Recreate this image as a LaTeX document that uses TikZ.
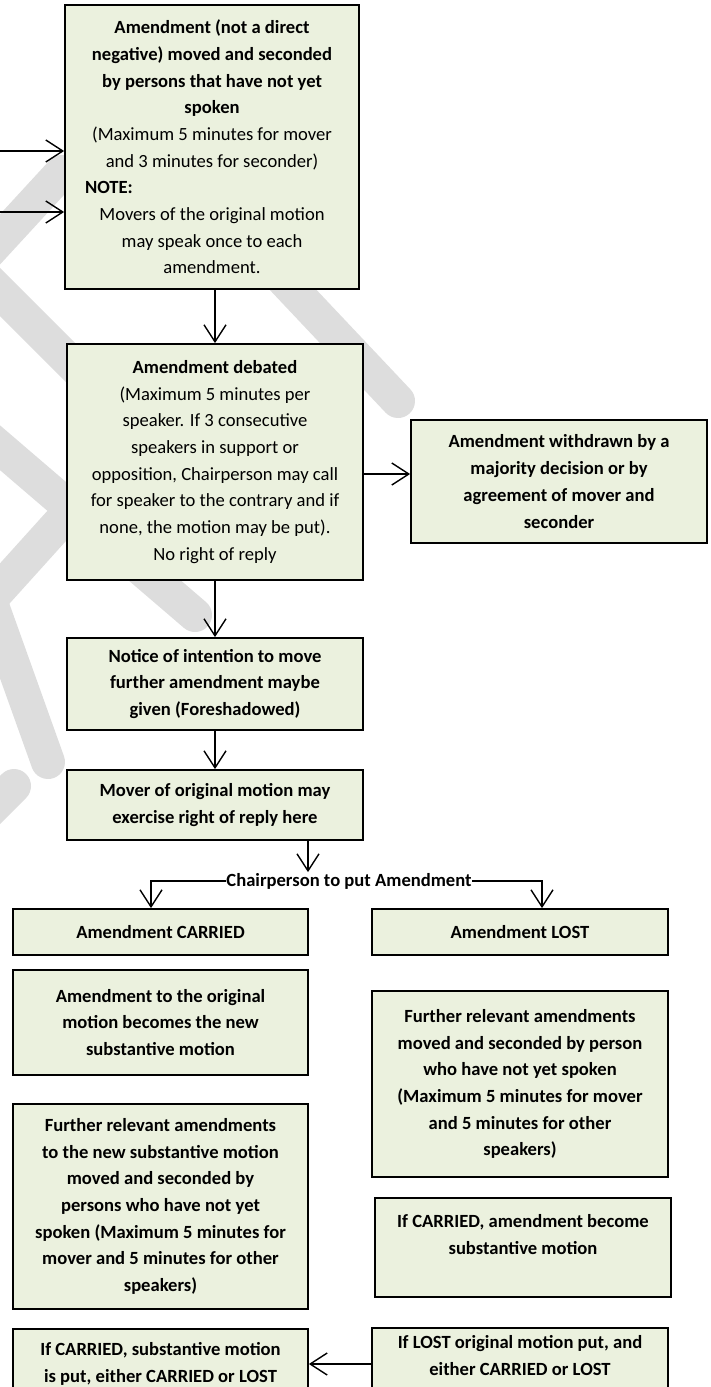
\documentclass[tikz,border=0pt]{standalone}
\usepackage{fontspec}
\setmainfont{Carlito}
\usetikzlibrary{arrows.meta}
\definecolor{boxfill}{HTML}{EBF1DE}
\definecolor{wmark}{HTML}{DDDDDD}
\tikzset{
  box/.style={draw=black, line width=1.8pt, fill=boxfill, align=center, inner sep=0pt,
    font=\fontsize{18.6}{26.7}\selectfont\bfseries},
  arr/.style={line width=1.4pt, -{Straight Barb[length=17pt,width=22pt,line width=1.4pt]}},
  stripe/.style={draw=wmark, line width=34pt, line cap=round}
}
\begin{document}
\begin{tikzpicture}[x=1pt, y=-1pt]
\useasboundingbox (0,0) rectangle (710,1387);
% watermark stripes
\draw[stripe] (180,170) -- (398,401);
\draw[stripe] (62,172) -- (-30,272);
\draw[stripe] (-30,262) -- (160,452);
\draw[stripe] (-30,422) -- (195,615);
\draw[stripe] (62,520) -- (-30,622);
\draw[stripe] (-10,600) -- (48,762);
\draw[stripe] (-30,830) -- (14,786);

% boxes
\node[box, minimum width=294pt, minimum height=284pt] (b1) at (212,147)
 {Amendment (not a direct\\negative) moved and seconded\\by persons that have not yet\\spoken\\
  {\mdseries (Maximum 5 minutes for mover}\\{\mdseries and 3 minutes for seconder)}\\
  \makebox[254pt][l]{NOTE:}\\
  {\mdseries Movers of the original motion}\\{\mdseries may speak once to each}\\{\mdseries amendment.}};
\node[box, minimum width=296pt, minimum height=236pt] (b2) at (215,462)
 {Amendment debated\\
  {\mdseries (Maximum 5 minutes per}\\{\mdseries speaker. If 3 consecutive}\\{\mdseries speakers in support or}\\
  {\mdseries opposition, Chairperson may call}\\{\mdseries for speaker to the contrary and if}\\
  {\mdseries none, the motion may be put).}\\{\mdseries No right of reply}};
\node[box, minimum width=296pt, minimum height=123pt] (b3) at (559,481.5)
 {Amendment withdrawn by a\\majority decision or by\\agreement of mover and\\seconder};
\node[box, minimum width=296pt, minimum height=92pt] (b4) at (215,684)
 {Notice of intention to move\\further amendment maybe\\given (Foreshadowed)};
\node[box, minimum width=296pt, minimum height=70pt] (b5) at (215,805)
 {Mover of original motion may\\exercise right of reply here};
\node[box, fill=none, draw=none] (chair) at (349,881)
 {Chairperson to put Amendment};
\node[box, minimum width=295pt, minimum height=46pt] (b6) at (160.5,932) {Amendment CARRIED};
\node[box, minimum width=296pt, minimum height=46pt] (b7) at (520,932) {Amendment LOST};
\node[box, minimum width=295pt, minimum height=105pt] (b8) at (160.5,1022.5)
 {Amendment to the original\\motion becomes the new\\substantive motion};
\node[box, minimum width=296pt, minimum height=186pt] (b9) at (520,1084)
 {Further relevant amendments\\moved and seconded by person\\who have not yet spoken\\(Maximum 5 minutes for mover\\and 5 minutes for other\\speakers)};
\node[box, minimum width=295pt, minimum height=205pt] (b10) at (160.5,1206.5)
 {Further relevant amendments\\to the new substantive motion\\moved and seconded by\\persons who have not yet\\spoken (Maximum 5 minutes for\\mover and 5 minutes for other\\speakers)};
\node[box, minimum width=296pt, minimum height=99pt] (b11) at (523,1247.5)
 {If CARRIED, amendment become\\substantive motion\\~};
\node[box, minimum width=295pt, inner ysep=14pt, anchor=north] (b12) at (160.5,1328)
 {If CARRIED, substantive motion\\is put, either CARRIED or LOST\\~\\~};
\node[box, minimum width=296pt, inner ysep=8pt, anchor=north] (b13) at (520,1327)
 {If LOST original motion put, and\\either CARRIED or LOST\\~\\~};

% helper coordinates
\coordinate (in1) at (0,151);
\coordinate (in2) at (0,212);
\coordinate (wy) at (0,474);
\coordinate (tipx) at (308,0);
\coordinate (lx) at (151,0);
\coordinate (rx) at (542,0);
\coordinate (ay) at (0,1364);

% connectors
\draw[arr] (in1) -- (in1 -| b1.west);
\draw[arr] (in2) -- (in2 -| b1.west);
\draw[arr] (b1.south -| b2.north) -- (b2.north);
\draw[arr] (b2.east |- wy) -- (b3.west |- wy);
\draw[arr] (b2.south) -- (b4.north);
\draw[arr] (b4.south) -- (b5.north);
\draw[arr] (b5.south -| tipx) -- (tipx |- chair.north);
\draw[arr] (chair.west) -| (b6.north -| lx);
\draw[arr] (chair.east) -| (b7.north -| rx);
\draw[arr] (b13.west |- ay) -- (b12.east |- ay);
\end{tikzpicture}
\end{document}
